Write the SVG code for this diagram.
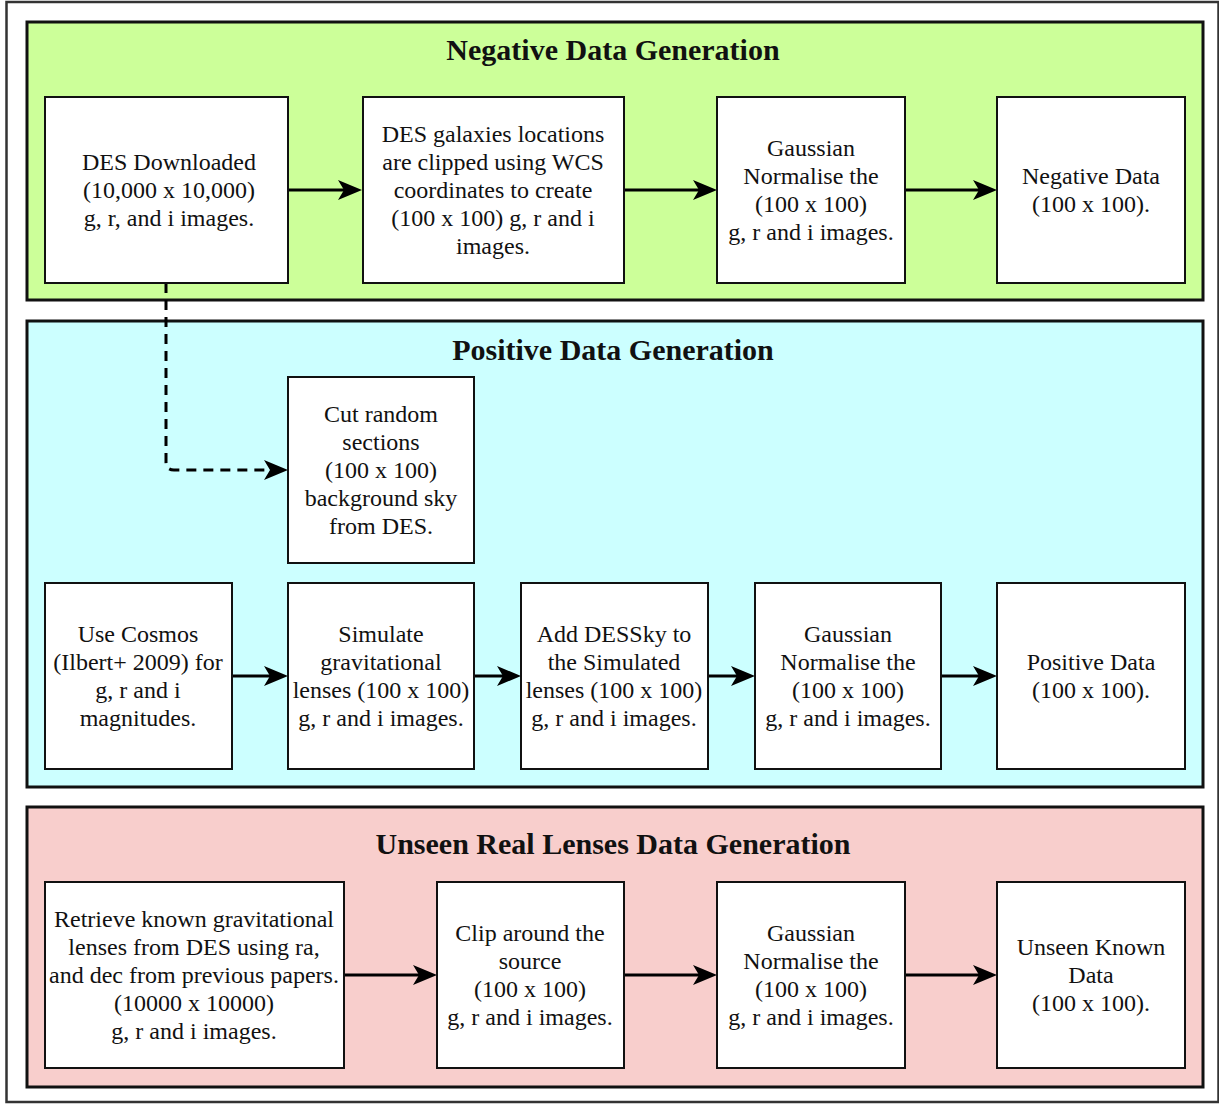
<svg xmlns="http://www.w3.org/2000/svg" width="1219" height="1106" viewBox="0 0 1219 1106">
  <style>
    .panel { stroke: #111; stroke-width: 3; }
    .node rect { fill: #fff; stroke: #111; stroke-width: 2; }
    .node text, .title { font-family: "Liberation Serif", "Times New Roman", serif; fill: #111; text-anchor: middle; }
    .node text { font-size: 24px; }
    .title { font-size: 30px; font-weight: bold; }
    .edge { fill: none; stroke: #000; stroke-width: 3; }
    .dashed { stroke-dasharray: 10 7; }
  </style>
  <defs>
    <!-- tip sits 10px past the end of the line so the stroke never pokes through -->
    <marker id="arrow" markerUnits="userSpaceOnUse" viewBox="0 0 24 20" refX="14" refY="10" markerWidth="24" markerHeight="20" orient="auto">
      <path d="M0,0 L24,10 L0,20 L6,10 z" fill="#000"/>
    </marker>
  </defs>

  <rect width="1219" height="1106" fill="#fff"/>
  <!-- outer frame -->
  <rect x="6.5" y="2" width="1212" height="1100" fill="none" stroke="#333" stroke-width="2.5"/>

  <!-- section panels -->
  <g id="panel-negative">
    <rect class="panel" x="27" y="22" width="1176" height="278" fill="#CCFF99"/>
    <text class="title" x="613" y="60">Negative Data Generation</text>
  </g>
  <g id="panel-positive">
    <rect class="panel" x="27" y="321" width="1176" height="466" fill="#CCFFFF"/>
    <text class="title" x="613" y="360">Positive Data Generation</text>
  </g>
  <g id="panel-unseen">
    <rect class="panel" x="27" y="807" width="1176" height="280" fill="#F8CECC"/>
    <text class="title" x="613" y="854">Unseen Real Lenses Data Generation</text>
  </g>

  <!-- connectors -->
  <g id="connectors">
    <line class="edge" x1="288" y1="190" x2="352" y2="190" marker-end="url(#arrow)"/>
    <line class="edge" x1="624" y1="190" x2="707" y2="190" marker-end="url(#arrow)"/>
    <line class="edge" x1="905" y1="190" x2="987" y2="190" marker-end="url(#arrow)"/>

    <path class="edge dashed" d="M166,283 V462 Q166,470 174,470 H278" marker-end="url(#arrow)"/>

    <line class="edge" x1="232" y1="676" x2="278" y2="676" marker-end="url(#arrow)"/>
    <line class="edge" x1="474" y1="676" x2="511" y2="676" marker-end="url(#arrow)"/>
    <line class="edge" x1="708" y1="676" x2="745" y2="676" marker-end="url(#arrow)"/>
    <line class="edge" x1="941" y1="676" x2="987" y2="676" marker-end="url(#arrow)"/>

    <line class="edge" x1="344" y1="975" x2="427" y2="975" marker-end="url(#arrow)"/>
    <line class="edge" x1="624" y1="975" x2="707" y2="975" marker-end="url(#arrow)"/>
    <line class="edge" x1="905" y1="975" x2="987" y2="975" marker-end="url(#arrow)"/>
  </g>

  <!-- negative data nodes -->
  <g id="des-downloaded" class="node">
    <rect x="45" y="97" width="243" height="186"/>
    <text x="169" y="170">DES Downloaded</text>
    <text x="169" y="198">(10,000 x 10,000)</text>
    <text x="169" y="226">g, r, and i images.</text>
  </g>
  <g id="des-clipped" class="node">
    <rect x="363" y="97" width="261" height="186"/>
    <text x="493" y="142">DES galaxies locations</text>
    <text x="493" y="170">are clipped using WCS</text>
    <text x="493" y="198">coordinates to create</text>
    <text x="493" y="226">(100 x 100) g, r and i</text>
    <text x="493" y="254">images.</text>
  </g>
  <g id="neg-normalise" class="node">
    <rect x="717" y="97" width="188" height="186"/>
    <text x="811" y="156">Gaussian</text>
    <text x="811" y="184">Normalise the</text>
    <text x="811" y="212">(100 x 100)</text>
    <text x="811" y="240">g, r and i images.</text>
  </g>
  <g id="negative-data" class="node">
    <rect x="997" y="97" width="188" height="186"/>
    <text x="1091" y="184">Negative Data</text>
    <text x="1091" y="212">(100 x 100).</text>
  </g>

  <!-- positive data nodes -->
  <g id="cut-sky" class="node">
    <rect x="288" y="377" width="186" height="186"/>
    <text x="381" y="422">Cut random</text>
    <text x="381" y="450">sections</text>
    <text x="381" y="478">(100 x 100)</text>
    <text x="381" y="506">background sky</text>
    <text x="381" y="534">from DES.</text>
  </g>
  <g id="use-cosmos" class="node">
    <rect x="45" y="583" width="187" height="186"/>
    <text x="138" y="642">Use Cosmos</text>
    <text x="138" y="670">(Ilbert+ 2009) for</text>
    <text x="138" y="698">g, r and i</text>
    <text x="138" y="726">magnitudes.</text>
  </g>
  <g id="simulate-lenses" class="node">
    <rect x="288" y="583" width="186" height="186"/>
    <text x="381" y="642">Simulate</text>
    <text x="381" y="670">gravitational</text>
    <text x="381" y="698">lenses (100 x 100)</text>
    <text x="381" y="726">g, r and i images.</text>
  </g>
  <g id="add-dessky" class="node">
    <rect x="521" y="583" width="187" height="186"/>
    <text x="614" y="642">Add DESSky to</text>
    <text x="614" y="670">the Simulated</text>
    <text x="614" y="698">lenses (100 x 100)</text>
    <text x="614" y="726">g, r and i images.</text>
  </g>
  <g id="pos-normalise" class="node">
    <rect x="755" y="583" width="186" height="186"/>
    <text x="848" y="642">Gaussian</text>
    <text x="848" y="670">Normalise the</text>
    <text x="848" y="698">(100 x 100)</text>
    <text x="848" y="726">g, r and i images.</text>
  </g>
  <g id="positive-data" class="node">
    <rect x="997" y="583" width="188" height="186"/>
    <text x="1091" y="670">Positive Data</text>
    <text x="1091" y="698">(100 x 100).</text>
  </g>

  <!-- unseen real lenses nodes -->
  <g id="retrieve-lenses" class="node">
    <rect x="45" y="882" width="299" height="186"/>
    <text x="194" y="927">Retrieve known gravitational</text>
    <text x="194" y="955">lenses from DES using ra,</text>
    <text x="194" y="983">and dec from previous papers.</text>
    <text x="194" y="1011">(10000 x 10000)</text>
    <text x="194" y="1039">g, r and i images.</text>
  </g>
  <g id="clip-source" class="node">
    <rect x="437" y="882" width="187" height="186"/>
    <text x="530" y="941">Clip around the</text>
    <text x="530" y="969">source</text>
    <text x="530" y="997">(100 x 100)</text>
    <text x="530" y="1025">g, r and i images.</text>
  </g>
  <g id="unseen-normalise" class="node">
    <rect x="717" y="882" width="188" height="186"/>
    <text x="811" y="941">Gaussian</text>
    <text x="811" y="969">Normalise the</text>
    <text x="811" y="997">(100 x 100)</text>
    <text x="811" y="1025">g, r and i images.</text>
  </g>
  <g id="unseen-data" class="node">
    <rect x="997" y="882" width="188" height="186"/>
    <text x="1091" y="955">Unseen Known</text>
    <text x="1091" y="983">Data</text>
    <text x="1091" y="1011">(100 x 100).</text>
  </g>
</svg>
